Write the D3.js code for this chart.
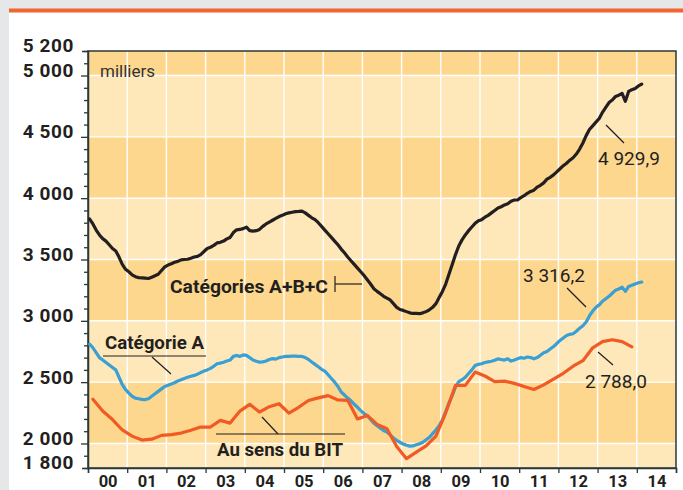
<!DOCTYPE html>
<html><head><meta charset="utf-8">
<script src="https://cdn.jsdelivr.net/npm/d3@7"></script>
<style>
html,body{margin:0;padding:0;background:#e6e7e8;}
svg{display:block;}
text{font-family:Roboto,"Noto Sans",sans-serif;}
</style></head>
<body>
<svg id="c" width="683" height="490"></svg>
<script>
// ---------- data ----------
const startYear = 2000;
// Catégories A+B+C, monthly (thousands), Jan 2000 -> Feb 2014
const abc = [
 3830,3790,3740,3700,3670,3650,3620,3590,3570,3520,3460,3420,
 3400,3375,3360,3352,3350,3348,3345,3355,3368,3380,3410,3440,
 3455,3465,3478,3485,3497,3500,3502,3510,3520,3525,3540,3565,
 3590,3600,3615,3635,3640,3650,3668,3680,3720,3742,3745,3752,
 3764,3735,3731,3735,3745,3770,3790,3805,3820,3835,3850,3860,
 3873,3880,3885,3890,3892,3895,3880,3860,3840,3825,3800,3770,
 3740,3710,3680,3650,3620,3585,3555,3520,3490,3460,3430,3400,
 3370,3335,3300,3262,3240,3220,3200,3185,3170,3140,3110,3092,
 3085,3075,3065,3060,3060,3058,3065,3075,3090,3110,3140,3190,
 3240,3300,3380,3460,3540,3610,3660,3700,3735,3765,3795,3815,
 3825,3845,3860,3880,3900,3920,3930,3945,3955,3975,3985,3985,
 4005,4020,4040,4055,4065,4090,4105,4125,4155,4170,4190,4215,
 4240,4265,4285,4310,4330,4360,4400,4450,4510,4560,4590,4620,
 4650,4700,4740,4780,4800,4830,4840,4855,4790,4870,4885,4895,
 4915,4929.9
];
// Catégorie A, monthly
const catA = [
 2810,2780,2740,2700,2680,2660,2640,2620,2600,2540,2480,2440,
 2410,2385,2370,2365,2360,2358,2365,2385,2405,2425,2445,2465,
 2474,2485,2495,2510,2520,2530,2540,2548,2555,2565,2578,2590,
 2600,2612,2630,2650,2655,2662,2672,2680,2710,2718,2710,2722,
 2718,2700,2680,2670,2663,2665,2672,2685,2692,2688,2700,2705,
 2710,2710,2712,2712,2710,2710,2700,2685,2665,2645,2625,2605,
 2590,2560,2530,2500,2465,2420,2395,2370,2348,2320,2295,2268,
 2245,2225,2195,2165,2145,2125,2105,2093,2070,2045,2025,2010,
 1995,1985,1978,1980,1990,1998,2010,2030,2050,2080,2110,2145,
 2190,2260,2330,2390,2460,2505,2520,2540,2570,2600,2635,2645,
 2650,2660,2665,2670,2678,2690,2685,2680,2690,2672,2680,2690,
 2700,2695,2705,2700,2690,2700,2720,2740,2750,2770,2790,2815,
 2840,2860,2880,2890,2895,2915,2940,2960,2990,3040,3080,3110,
 3130,3160,3180,3200,3225,3250,3260,3275,3240,3280,3290,3300,
 3310,3316.2
];
// Au sens du BIT, quarterly, Q1 2000 -> Q4 2013
const bit = [
 2360,2265,2195,2110, 2060,2028,2035,2066, 2072,2085,2108,2134,
 2134,2188,2166,2264, 2319,2256,2300,2324, 2248,2295,2350,2372,
 2390,2355,2352,2200, 2229,2156,2120,1975, 1876,1930,1980,2060,
 2250,2474,2474,2582, 2550,2505,2508,2490, 2465,2440,2478,2525,
 2572,2630,2675,2780, 2830,2846,2830,2788.0
];
const yLabels = [5200,5000,4500,4000,3500,3000,2500,2000,1800];
const yearLabels = ["00","01","02","03","04","05","06","07","08","09","10","11","12","13","14"];
const bandBreaks = [1800,2000,2500,3000,3500,4000,4500,5000,5200];
const lastValues = {abc:4929.9, catA:3316.2, bit:2788.0};

// ---------- setup ----------
const svg = d3.select("#c");
const W = 683, H = 490;
const x = d3.scaleLinear().domain([2000, 2015]).range([88, 676]);
const y = d3.scaleLinear().domain([1800, 5200]).range([468, 51]);
const fr = d3.formatLocale({decimal:",", thousands:" ", grouping:[3], currency:["","€"]});
const fmtInt = fr.format(",d"), fmt1 = fr.format(",.1f");

svg.append("rect").attr("width",W).attr("height",H).attr("fill","#e6e7e8");
svg.append("rect").attr("x",9).attr("y",9).attr("width",W-9).attr("height",H-9).attr("fill","#ffffff");
svg.append("rect").attr("x",9).attr("y",8.5).attr("width",W-9).attr("height",4).attr("fill","#f26531");

// bands
const bands = d3.pairs(bandBreaks);
svg.append("g").selectAll("rect").data(bands).join("rect")
  .attr("x", x(2000)).attr("width", x(2015)-x(2000))
  .attr("y", d => y(d[1])).attr("height", d => y(d[0]) - y(d[1]))
  .attr("fill", d => (d[0] % 1000 === 0 && d[1]-d[0]===500) || d[0]===5000 ? "#fdd78d" : "#fee7b9");

// grid
const grid = svg.append("g").attr("stroke","#ffffff").attr("stroke-width",1.4);
grid.selectAll("line.v").data(d3.range(2001, 2015)).join("line")
  .attr("x1", d=>x(d)).attr("x2", d=>x(d)).attr("y1", y(5200)).attr("y2", y(1800));
grid.selectAll("line.h").data(d3.range(2000, 5001, 500)).join("line")
  .attr("x1", x(2000)).attr("x2", x(2015)).attr("y1", d=>y(d)).attr("y2", d=>y(d));

// frame
svg.append("rect").attr("x",x(2000)).attr("y",y(5200)).attr("width",x(2015)-x(2000)).attr("height",y(1800)-y(5200))
  .attr("fill","none").attr("stroke","#2b3838").attr("stroke-width",1.5);

// y axis
const yAxis = d3.axisLeft(y).tickValues(d3.range(1800, 5201, 100))
  .tickFormat(d => yLabels.includes(d) ? fmtInt(d) : "").tickPadding(0);
const gy = svg.append("g").attr("transform",`translate(${x(2000)},0)`).call(yAxis);
gy.select(".domain").attr("stroke","#2b3838").attr("stroke-width",1.5);
gy.selectAll(".tick line").attr("stroke","#2b3838").attr("stroke-width",1.3)
  .attr("x2", d => d % 500 === 0 ? -7 : -4);
gy.selectAll(".tick text").attr("x",-14).attr("dy","0.05em")
  .attr("fill","#231f20").attr("font-size",19).attr("font-weight",700)
  .attr("letter-spacing",0.6)
  .attr("font-family","Roboto, sans-serif");

// x axis ticks
const xAxis = d3.axisBottom(x).tickValues(d3.range(2000, 2016)).tickSize(5).tickFormat("");
const gx = svg.append("g").attr("transform",`translate(0,${y(1800)})`).call(xAxis);
gx.select(".domain").attr("stroke","#2b3838").attr("stroke-width",1.5);
gx.selectAll(".tick line").attr("stroke","#2b3838").attr("stroke-width",1.3);
// x labels
const xAxis2 = d3.axisBottom(x).tickValues(d3.range(2000.5, 2015, 1)).tickSize(0)
  .tickFormat((d,i) => yearLabels[i]);
const gx2 = svg.append("g").attr("transform",`translate(0,${y(1800)})`).call(xAxis2);
gx2.select(".domain").remove();
gx2.selectAll(".tick text").attr("y",7).attr("dy","0.72em").attr("fill","#231f20")
  .attr("font-size",16.5).attr("font-weight",700).attr("font-family","Roboto, sans-serif");

// lines
const monthly = arr => arr.map((v,i) => [startYear + (i+0.5)/12, v]);
const quarterly = arr => arr.map((v,i) => [startYear + (i+0.5)/4, v]);
const line = d3.line().x(d=>x(d[0])).y(d=>y(d[1])).curve(d3.curveLinear);
const plot = svg.append("g").attr("fill","none").attr("stroke-width",3.2).attr("stroke-linejoin","round").attr("stroke-linecap","round");
plot.append("path").datum(monthly(catA)).attr("stroke","#3a9fd3").attr("d",line);
plot.append("path").datum(quarterly(bit)).attr("stroke","#f15a24").attr("d",line);
plot.append("path").datum(monthly(abc)).attr("stroke","#231f20").attr("d",line);

// annotations
const ann = svg.append("g").attr("fill","#231f20");
ann.append("text").attr("x",100).attr("y",77).attr("font-size",17).attr("fill","#333")
  .attr("font-family","Roboto, sans-serif").text("milliers");

const bold = (t,xx,yy,len) => ann.append("text").attr("x",xx).attr("y",yy).attr("font-size",19)
  .attr("font-weight",700).attr("textLength",len).attr("lengthAdjust","spacingAndGlyphs").text(t);
bold("Catégories A+B+C",170,293,158);
bold("Catégorie A",105,349,99);
bold("Au sens du BIT",217,456,126);

const lk = svg.append("g").attr("stroke","#231f20").attr("stroke-width",1.2).attr("fill","none");
lk.append("line").attr("x1",335).attr("x2",335).attr("y1",276).attr("y2",292);
lk.append("line").attr("x1",335).attr("x2",362).attr("y1",284).attr("y2",284);
lk.append("line").attr("x1",103).attr("x2",206).attr("y1",356).attr("y2",356);
lk.append("line").attr("x1",152).attr("x2",171).attr("y1",357).attr("y2",374);
lk.append("line").attr("x1",216).attr("x2",345).attr("y1",434).attr("y2",434);
lk.append("line").attr("x1",262).attr("x2",278).attr("y1",417).attr("y2",434);
lk.append("line").attr("x1",606).attr("x2",624).attr("y1",125).attr("y2",143);
lk.append("line").attr("x1",567).attr("x2",586).attr("y1",288).attr("y2",307);
lk.append("line").attr("x1",598).attr("x2",613).attr("y1",352).attr("y2",365);

const reg = (t,xx,yy) => ann.append("text").attr("x",xx).attr("y",yy).attr("font-size",19)
  .attr("font-family","Roboto, sans-serif").text(t);
reg(fmt1(lastValues.abc),598,165);
reg(fmt1(lastValues.catA),523,282);
reg(fmt1(lastValues.bit),585,388);
</script>
</body></html>
